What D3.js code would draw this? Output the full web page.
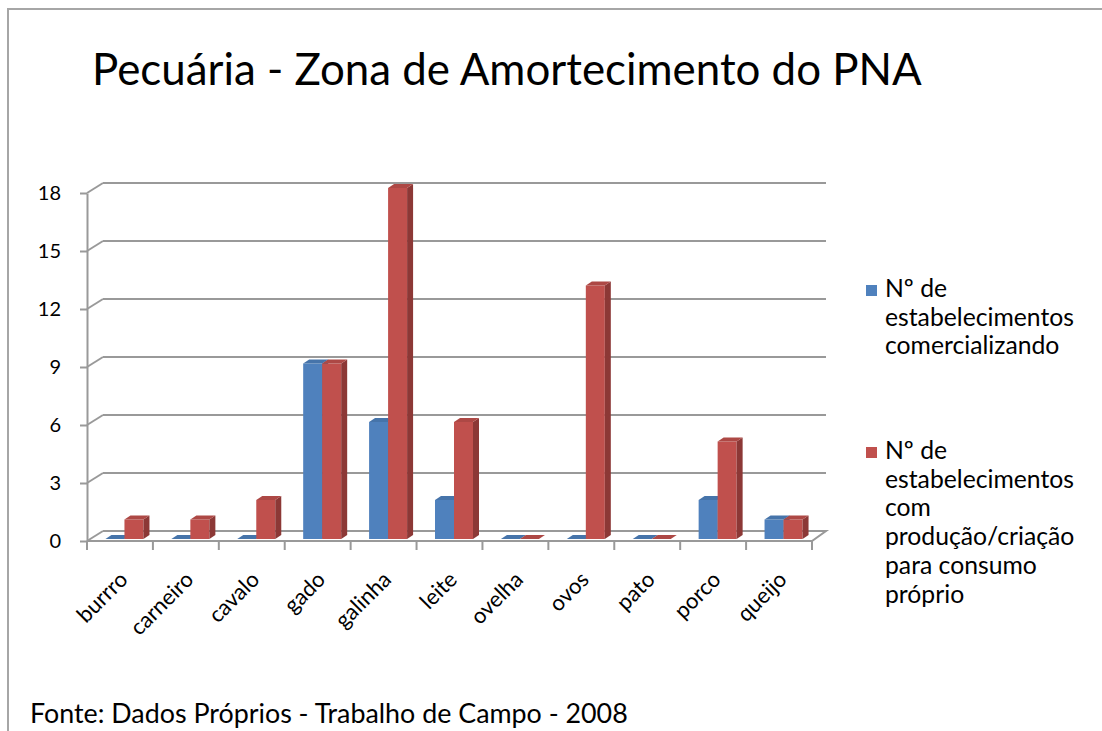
<!DOCTYPE html>
<html>
<head>
<meta charset="utf-8">
<script src="https://cdn.jsdelivr.net/npm/d3@7"></script>
<style>
  body { margin: 0; background: #fff; }
  svg { display: block; font-family: Lato, "Open Sans", sans-serif; }
</style>
</head>
<body>
<svg id="chart" width="1102" height="731"></svg>
<script>
// ---- data
var categories = ["burrro", "carneiro", "cavalo", "gado", "galinha", "leite", "ovelha", "ovos", "pato", "porco", "queijo"];
var comercializando = [0, 0, 0, 9, 6, 2, 0, 0, 0, 2, 1];
var consumoProprio = [1, 1, 2, 9, 18, 6, 0, 13, 0, 5, 1];
var yTicks = [0, 3, 6, 9, 12, 15, 18];
var seriesKeys = ["com", "cons"];
var legendLines = [
  ["Nº de", "estabelecimentos", "comercializando"],
  ["Nº de", "estabelecimentos", "com", "produção/criação", "para consumo", "próprio"]
];
var titleText = "Pecuária - Zona de Amortecimento do PNA";
var sourceText = "Fonte: Dados Próprios - Trabalho de Campo - 2008";

var colors = {
  com:  {front: "#4F81BD", side: "#385D8A", top: "#4674AA"},
  cons: {front: "#C0504D", side: "#8C3836", top: "#AD4845"}
};

var rows = categories.map(function(c, i) {
  return {cat: c, com: comercializando[i], cons: consumoProprio[i]};
});

var svg = d3.select("#chart");

// fit a text element's font size to a given width
function fitWidth(sel, target) {
  var len = sel.node().getComputedTextLength();
  var fs = parseFloat(sel.style("font-size"));
  sel.style("font-size", (fs * target / len) + "px");
}

// frame
svg.append("path")
  .attr("d", "M8,731 L8,9 L1102,9")
  .attr("fill", "none")
  .attr("stroke", "#a6a6a6")
  .attr("stroke-width", 2);

// title
var title = svg.append("text")
  .attr("x", 92).attr("y", 85)
  .style("font-size", "38px")
  .style("fill", "#000")
  .text(titleText);
fitWidth(title, 830);

// ---- scales
var depth = {dx: 16, dy: -10};
var x = d3.scaleBand().domain(categories).range([87, 812]);
var y = d3.scaleLinear().domain([0, 18]).range([541, 193]);
var yBar = d3.scaleLinear().domain([0, 18]).range([539, 188]);
var xSeries = d3.scaleBand().domain(seriesKeys).range([0, 38]);
var barOffset = x.bandwidth() / 2 - 19 + 4.5;
var barDepth = {dx: 6, dy: -4};

var grid = svg.append("g").attr("class", "grid")
  .attr("fill", "none")
  .attr("stroke", "#999")
  .attr("stroke-width", 2);

// back wall gridlines + left wall slants
yTicks.forEach(function(v) {
  if (v > 0) {
    grid.append("line")
      .attr("x1", 87 + depth.dx).attr("x2", 812 + 14)
      .attr("y1", y(v) + depth.dy).attr("y2", y(v) + depth.dy);
  }
  grid.append("line")
    .attr("x1", 87).attr("y1", y(v))
    .attr("x2", 87 + depth.dx).attr("y2", y(v) + depth.dy);
});

// floor
grid.append("path")
  .attr("d", "M87," + y(0) + " L812," + y(0) + " L826," + (y(0) + depth.dy) +
             " L" + (87 + depth.dx) + "," + (y(0) + depth.dy));

// y axis
var yAxis = svg.append("g")
  .attr("transform", "translate(87,0)")
  .call(d3.axisLeft(y).tickValues(yTicks).tickSize(7).tickSizeOuter(0));
yAxis.select(".domain").attr("stroke", "#999").attr("stroke-width", 2);
yAxis.selectAll(".tick line").attr("stroke", "#999").attr("stroke-width", 2);
yAxis.selectAll(".tick text")
  .attr("x", -26)
  .style("font-size", "20px")
  .style("font-family", "Lato, sans-serif")
  .style("fill", "#000");

// x axis
var xAxis = svg.append("g")
  .attr("transform", "translate(0," + y(0) + ")")
  .call(d3.axisBottom(x).tickSize(0).tickSizeOuter(0));
xAxis.select(".domain").remove();
var xTickPos = categories.map(function(c) { return x(c); }).concat([812]);
xAxis.selectAll(".edge")
  .data(xTickPos)
  .enter().append("line")
  .attr("x1", d => d).attr("x2", d => d)
  .attr("y1", 0).attr("y2", 9)
  .attr("stroke", "#999").attr("stroke-width", 2);
xAxis.selectAll(".tick text")
  .attr("y", 0).attr("dy", 0)
  .attr("transform", "translate(9,40) rotate(-45)")
  .style("text-anchor", "end")
  .style("font-size", "22px")
  .style("font-family", "Lato, sans-serif")
  .style("fill", "#000");

// ---- 3D bars
var barsG = svg.append("g").attr("class", "bars");
rows.forEach(function(d) {
  seriesKeys.forEach(function(k) {
    var x0 = x(d.cat) + barOffset + xSeries(k);
    var w = xSeries.bandwidth();
    var yt = yBar(d[k]), yb = yBar(0);
    var c = colors[k];
    var g = barsG.append("g");
    if (d[k] > 0) {
      g.append("rect")
        .attr("x", x0).attr("y", yt)
        .attr("width", w).attr("height", yb - yt)
        .attr("fill", c.front);
      g.append("path")
        .attr("d", "M" + (x0 + w) + "," + yt + " L" + (x0 + w + barDepth.dx) + "," + (yt + barDepth.dy) +
                   " L" + (x0 + w + barDepth.dx) + "," + (yb + barDepth.dy) + " L" + (x0 + w) + "," + yb + "Z")
        .attr("fill", c.side);
    }
    g.append("path")
      .attr("d", "M" + x0 + "," + yt + " L" + (x0 + w) + "," + yt + " L" + (x0 + w + barDepth.dx) + "," + (yt + barDepth.dy) +
                 " L" + (x0 + barDepth.dx) + "," + (yt + barDepth.dy) + "Z")
      .attr("fill", c.top);
  });
});

// ---- legend
var legendY = [297, 459];
var legend = svg.append("g").attr("class", "legend");
seriesKeys.forEach(function(k, i) {
  legend.append("rect")
    .attr("x", 866).attr("y", legendY[i] - 12)
    .attr("width", 11).attr("height", 11)
    .attr("fill", colors[k].front);
  var t = legend.append("text")
    .attr("x", 885).attr("y", legendY[i])
    .style("font-size", "19px")
    .style("fill", "#000");
  legendLines[i].forEach(function(line, j) {
    t.append("tspan").attr("x", 885).attr("y", legendY[i] + j * 28.7).text(line);
  });
});
// size the legend font so "estabelecimentos" spans the same width as in the original
var probe = legend.append("text").style("font-size", "19px").text(legendLines[0][1]);
var legendFs = 19 * 189 / probe.node().getComputedTextLength();
probe.remove();
legend.selectAll("text").style("font-size", legendFs + "px");

// source
var src = svg.append("text")
  .attr("x", 30).attr("y", 723)
  .style("font-size", "22px")
  .style("fill", "#000")
  .text(sourceText);
fitWidth(src, 598);
</script>
</body>
</html>
